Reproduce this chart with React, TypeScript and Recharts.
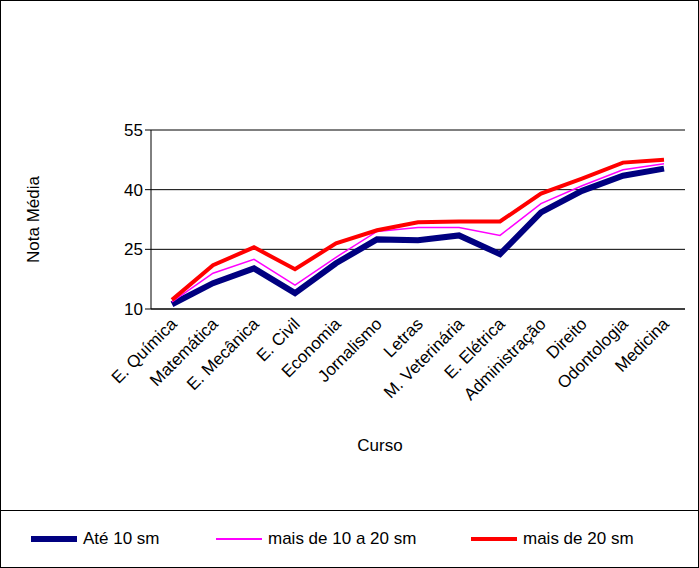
import React from "react";
import { LineChart, Line, XAxis, YAxis, CartesianGrid, Label } from "recharts";

const categories = ["E. Química","Matemática","E. Mecânica","E. Civil","Economia","Jornalismo","Letras","M. Veterinária","E. Elétrica","Administração","Direito","Odontologia","Medicina"];
const ate10 = [11.2,16.5,20.2,14,21.5,27.5,27.3,28.5,23.8,34.3,39.7,43.5,45.3];
const de10a20 = [11.8,19,22.5,16,23,29.5,30.5,30.5,28.5,36.5,41,45,46.5];
const mais20 = [12.3,21,25.5,20,26.5,29.8,31.8,32,32,39,42.8,46.8,47.5];
const yTicks = [10,25,40,55];

const data = categories.map((c, i) => ({ c, a: ate10[i], b: de10a20[i], d: mais20[i] }));

const Tick = (p: any) => (
  <text x={p.x + 6} y={p.y + 8} transform={`rotate(-45 ${p.x + 6} ${p.y + 8})`} textAnchor="end" fontSize={17} fontFamily="Liberation Sans, Arial" fill="#000">
    {p.payload.value}
  </text>
);

export default function App() {
  const font = "Liberation Sans, Arial";
  return (
    <div style={{ position: "absolute", left: 0, top: 0, width: 699, height: 568, background: "#fff", fontFamily: font }}>
      <div style={{ position: "absolute", left: 0, top: 0, width: 697, height: 509, border: "1px solid #000" }}>
        <LineChart width={697} height={509} data={data} margin={{ top: 129, left: 90, right: 13, bottom: 61 }}>
          <CartesianGrid vertical={false} stroke="#000" />
          <XAxis dataKey="c" stroke="#000" tick={<Tick />} interval={0} height={140} tickLine={false} padding={{ left: 21, right: 21 }}>
            <Label value="Curso" position="insideBottom" offset={-2} dx={-38} style={{ fontSize: 17, fill: "#000", fontFamily: font }} />
          </XAxis>
          <YAxis domain={[10, 55]} ticks={yTicks} stroke="#000" width={60} tick={{ fontSize: 17, fill: "#000", fontFamily: font }}>
            <Label value="Nota Média" angle={-90} position="insideLeft" offset={0} dx={-58} style={{ fontSize: 17, fill: "#000", fontFamily: font, textAnchor: "middle" }} />
          </YAxis>
          <Line dataKey="a" stroke="#000080" strokeWidth={6} dot={false} isAnimationActive={false} />
          <Line dataKey="b" stroke="#FF00FF" strokeWidth={1.5} dot={false} isAnimationActive={false} />
          <Line dataKey="d" stroke="#FF0000" strokeWidth={4} dot={false} isAnimationActive={false} />
        </LineChart>
      </div>
      <div style={{ position: "absolute", left: 0, top: 510, width: 697, height: 56, border: "1px solid #000", fontSize: 17 }}>
        {[
          { x: 30, c: "#000080", w: 6, t: "Até 10 sm" },
          { x: 215, c: "#FF00FF", w: 1.5, t: "mais de 10 a 20 sm" },
          { x: 470, c: "#FF0000", w: 4, t: "mais de 20 sm" },
        ].map((l) => (
          <div key={l.t} style={{ position: "absolute", left: l.x, top: 18, display: "flex", alignItems: "center" }}>
            <div style={{ width: 46, height: l.w, background: l.c, marginRight: 6 }} />
            <span>{l.t}</span>
          </div>
        ))}
      </div>
    </div>
  );
}
